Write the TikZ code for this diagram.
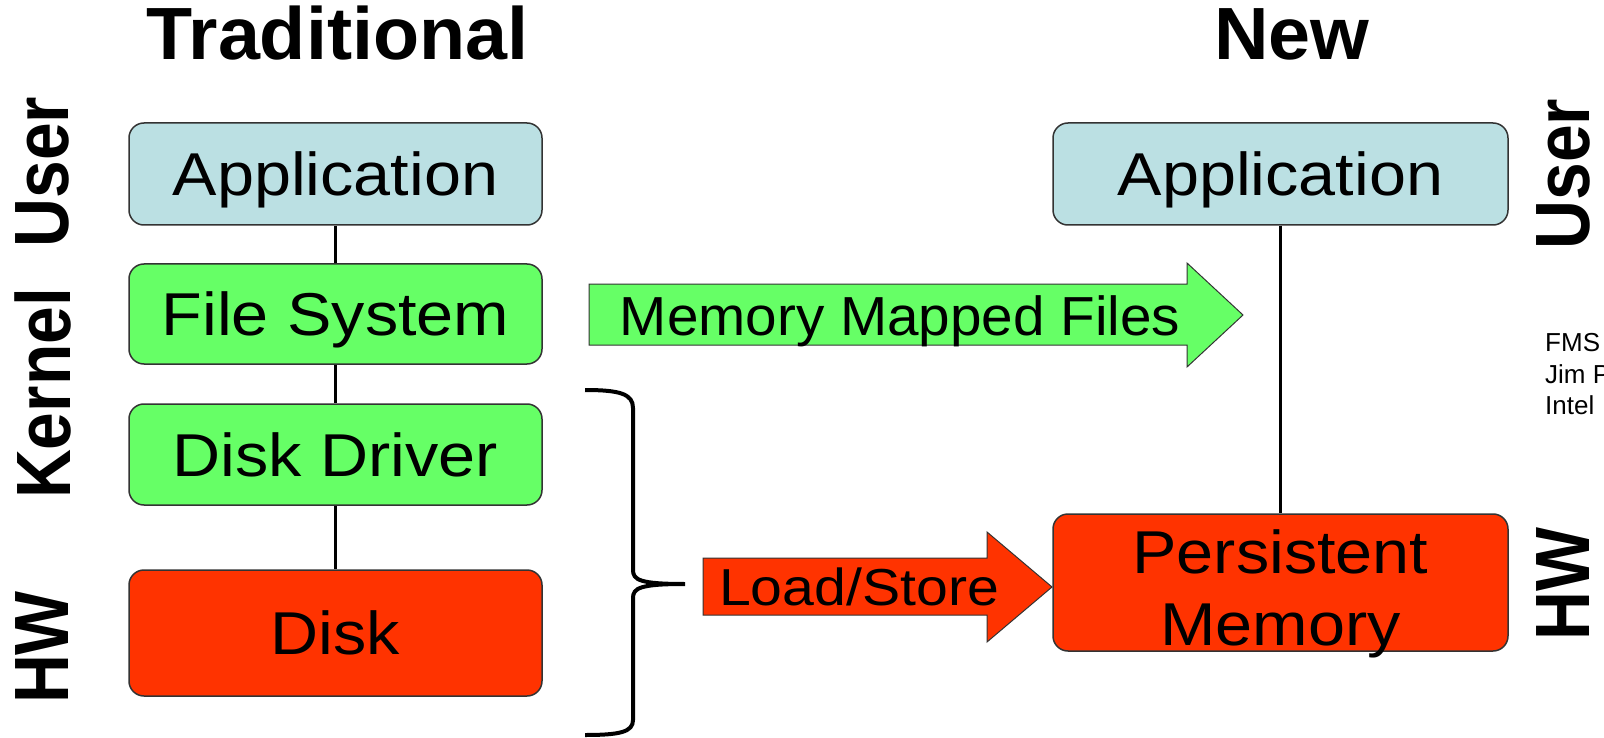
\documentclass[tikz,border=0pt]{standalone}
\usepackage{fontspec}
\setmainfont{Liberation Sans}
\newfontfamily\titlefont{Liberation Sans}[FakeStretch=1.02]
\newfontfamily\boxfont{Liberation Sans}[FakeStretch=1.1]
\newfontfamily\mmffont{Liberation Sans}[FakeStretch=1.03]
\newfontfamily\sidefont{Liberation Sans}[FakeStretch=0.88]
\usetikzlibrary{calc}

\begin{document}
\begin{tikzpicture}[x=1pt, y=-1pt,
  box/.style={draw=black!80, line width=1.5pt, rounded corners=15pt, inner sep=0pt,
    text depth=0pt, minimum width=413pt, align=center,
    font=\boxfont\fontsize{60.5}{72}\selectfont},
  side/.style={rotate=90, inner sep=0pt, text depth=0pt,
    font=\sidefont\bfseries\fontsize{77}{77}\selectfont},
  title/.style={anchor=base, inner sep=0pt, font=\titlefont\bfseries\fontsize{74}{74}\selectfont},
  link/.style={line width=2.5pt},
  bigarrow/.style={draw=black!80, line width=1pt},
  arrowtext/.style={inner sep=0pt, text depth=0pt}]
  % Colors
  \definecolor{userblue}{RGB}{187,224,227}
  \definecolor{kernelgreen}{RGB}{102,255,102}
  \definecolor{hwred}{RGB}{255,51,0}

  \useasboundingbox (0,0) rectangle (1604,738);

  % Titles
  \node[title] (trad) at (337.5,60) {Traditional};
  \node[title] (new) at (1292,60) {New};

  % Traditional stack
  \node[box, fill=userblue, minimum height=102pt] (appL) at (335.5,174) {Application};
  \node[box, fill=kernelgreen, minimum height=100pt] (fsL) at (335.5,314) {File System};
  \node[box, fill=kernelgreen, minimum height=101pt] (ddL) at (335.5,454.5) {Disk Driver};
  \node[box, fill=hwred, minimum height=126pt] (diskL) at (335.5,633) {Disk};
  \draw[link] (appL) -- (fsL);
  \draw[link] (fsL) -- (ddL);
  \draw[link] (ddL) -- (diskL);

  % New stack
  \node[box, fill=userblue, minimum width=455pt, minimum height=102pt] (appR) at (1280.5,174) {Application};
  \node[box, fill=hwred, minimum width=455pt, minimum height=137pt, text height=125pt]
    (pmR) at (1280.5,582.5) {Persistent\\Memory};
  \draw[line width=3pt] (appR) -- (pmR);

  % Memory mapped files arrow
  \draw[bigarrow, fill=kernelgreen] (589,284) -- (1187,284) -- (1187,263) -- (1243,315)
    -- (1187,367) -- (1187,345) -- (589,345) -- cycle;
  \node[arrowtext, font=\mmffont\fontsize{55}{55}\selectfont] (mmf) at (900,315.5) {Memory Mapped Files};

  % Brace and load/store arrow
  \draw[line width=4pt] (585,390) .. controls (620,390) and (633,394) .. (633,408) -- (633,570)
    .. controls (633,580) and (640,584) .. (685,584)
    .. controls (640,584) and (633,588) .. (633,598) -- (633,720)
    .. controls (633,732) and (620,735) .. (585,735);
  \draw[bigarrow, fill=hwred] (703,558) -- (987,558) -- (987,532) -- (1052,587)
    -- (987,642) -- (987,615) -- (703,615) -- cycle;
  \node[arrowtext, font=\boxfont\fontsize{52}{52}\selectfont] (ls) at (859,586.5) {Load/Store};

  % Layer labels
  \node[side] (userL) at (42.5,172) {User};
  \node[side] (kernelL) at (42.5,393.5) {Kernel};
  \node[side] (hwL) at (42.5,647.5) {HW};
  \node[side] (userR) at (1563,174) {User};
  \node[side] (hwR) at (1563,584) {HW};

  % Note
  \node[anchor=north west, align=left, inner sep=0pt, font=\fontsize{26}{31.5}\selectfont]
    (note) at (1545,333.3) {FMS\\Jim P\\Intel};
\end{tikzpicture}
\end{document}
